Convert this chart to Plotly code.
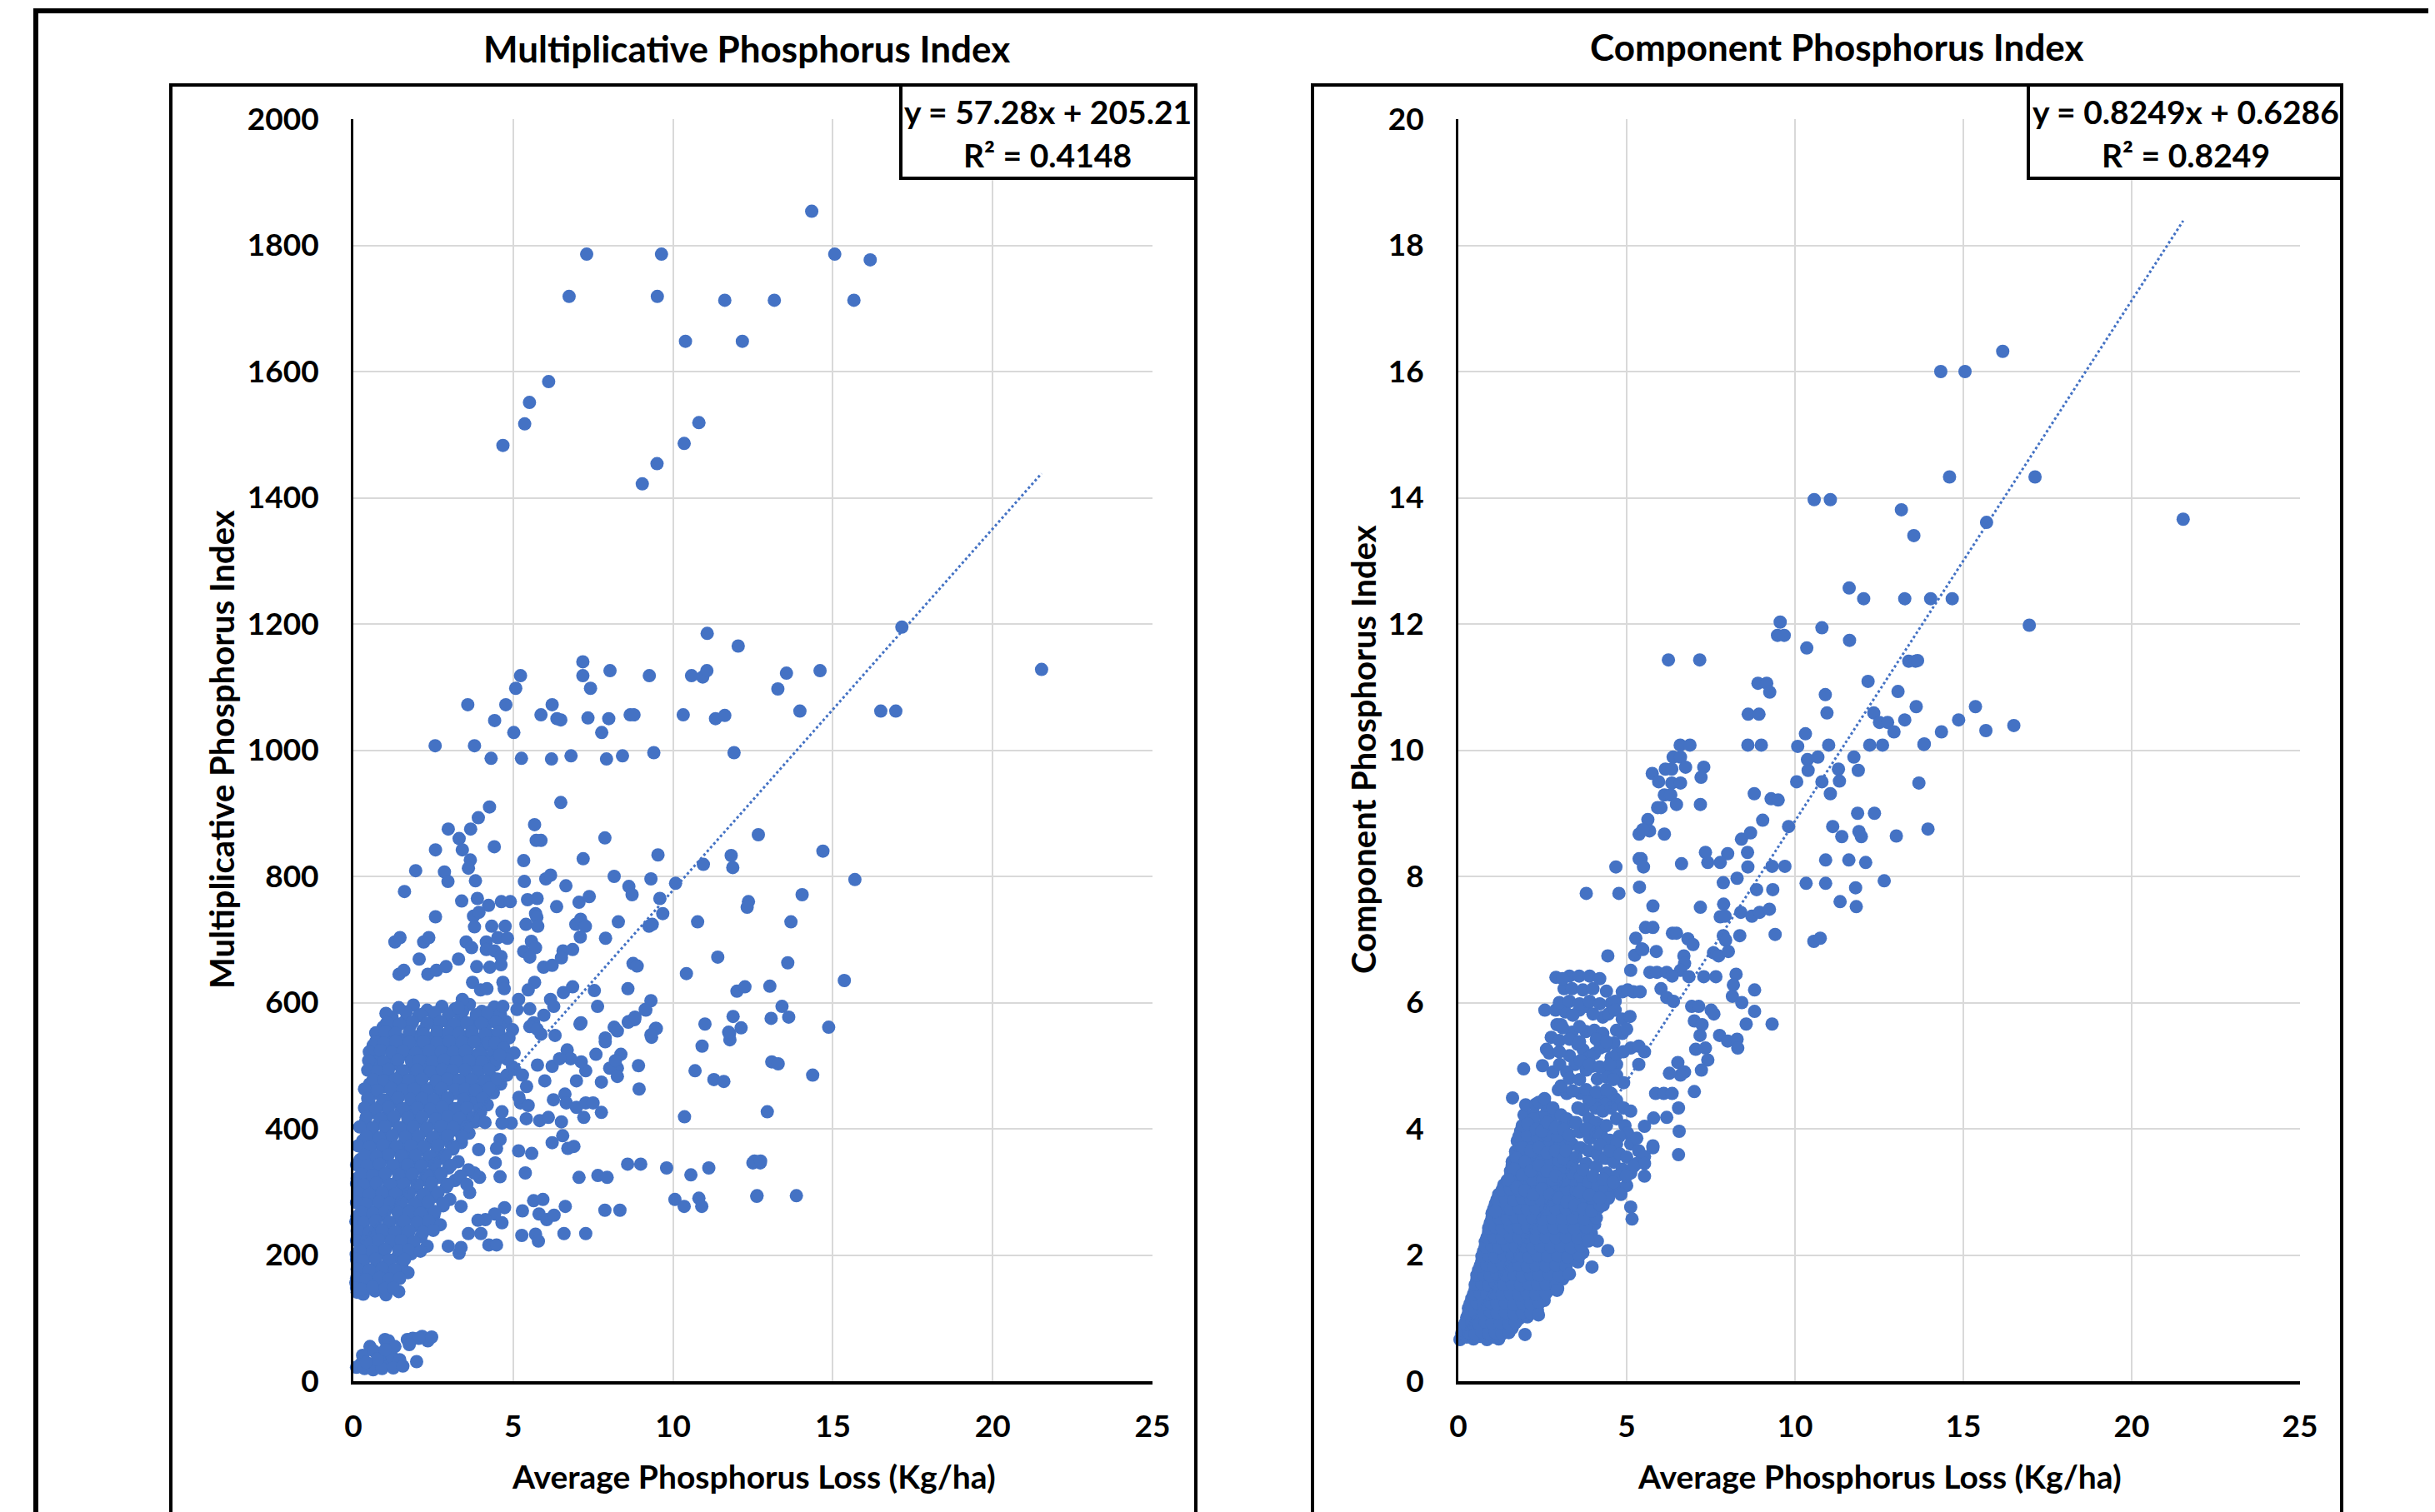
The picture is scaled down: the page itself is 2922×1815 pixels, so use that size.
import plotly.graph_objects as go

BLUE = "#4472C4"
FONT = "Lato"
W, H = 2922, 1815
OFF = 8  # page body margin

# ---------------- data: Multiplicative Phosphorus Index ----------------
mpi_high = [(14.34, 1854), (7.30, 1786), (9.64, 1786), (15.06, 1786), (16.17, 1777), (6.75, 1719),
            (9.51, 1719), (11.62, 1713), (13.17, 1713), (15.66, 1713), (10.39, 1648), (12.17, 1648),
            (6.11, 1584), (5.51, 1551), (5.36, 1517), (4.68, 1483), (10.81, 1519), (10.35, 1486),
            (9.50, 1454), (9.04, 1422)]

mpi_thousand = [(17.16, 1195), (21.53, 1128), (11.07, 1185), (12.04, 1165), (7.18, 1140), (5.23, 1118),
                (7.18, 1118), (8.03, 1126), (9.26, 1118), (10.58, 1118), (10.93, 1116), (11.06, 1126),
                (13.55, 1122), (14.60, 1126), (5.08, 1098), (7.42, 1098), (13.28, 1097), (13.97, 1062),
                (16.50, 1062), (16.97, 1062), (3.58, 1072), (4.77, 1072), (6.22, 1072), (4.42, 1047),
                (5.87, 1056), (6.37, 1050), (6.49, 1048), (7.34, 1051), (7.99, 1050), (8.66, 1056),
                (8.78, 1056), (10.32, 1056), (11.33, 1050), (11.62, 1055), (5.02, 1028), (7.77, 1028),
                (2.56, 1007), (3.79, 1007), (4.31, 987), (5.26, 987), (6.20, 986), (6.81, 991),
                (7.92, 986), (8.42, 991), (9.40, 996), (11.91, 996)]

mpi_mid = [(6.49, 917), (4.26, 910), (3.91, 893), (5.67, 882), (2.97, 875), (3.67, 875), (3.31, 860),
           (5.72, 857), (5.87, 857), (7.87, 861), (12.67, 866), (2.57, 842), (3.41, 842), (4.41, 847),
           (3.66, 826), (3.60, 813), (5.33, 825), (7.19, 828), (9.53, 834), (11.82, 833), (11.87, 814),
           (10.95, 819), (14.69, 840), (1.95, 809), (2.85, 807), (2.96, 792), (3.82, 793), (5.35, 792),
           (6.02, 796), (6.17, 802), (6.65, 785), (8.16, 800), (8.62, 784), (8.72, 771), (9.31, 796),
           (10.08, 789), (15.69, 795), (1.60, 776), (3.39, 761), (3.88, 765), (4.23, 754), (4.63, 760),
           (4.91, 760), (5.45, 763), (5.75, 765), (7.06, 759), (7.38, 768), (6.36, 752), (9.59, 765),
           (12.36, 760), (12.32, 751), (14.04, 771), (2.57, 736), (3.76, 737), (3.93, 743), (5.70, 741),
           (5.74, 735), (3.79, 720), (4.33, 721), (4.75, 721), (5.40, 724), (5.77, 721), (6.96, 724),
           (7.11, 732), (7.26, 721), (8.29, 728), (9.25, 721), (9.35, 724), (9.68, 741), (10.77, 728),
           (13.69, 728), (1.30, 696), (1.46, 703), (2.20, 696), (2.36, 703), (3.53, 696), (3.70, 687),
           (4.16, 696), (4.16, 684), (4.52, 703), (4.82, 702), (5.57, 697), (5.70, 687), (7.10, 704),
           (7.89, 702), (5.33, 681), (5.52, 672), (4.42, 682), (4.62, 673), (6.56, 682), (6.86, 684),
           (2.06, 669), (3.29, 669), (1.43, 645), (1.58, 651), (2.33, 645), (2.60, 651), (2.90, 657),
           (3.86, 657), (4.27, 656), (4.62, 660), (5.95, 656), (6.22, 659), (6.51, 671), (8.75, 662),
           (8.88, 658), (10.42, 646), (11.40, 672), (13.59, 663), (15.36, 635), (3.73, 632), (3.98, 620),
           (4.18, 622), (4.68, 632), (4.72, 622), (5.67, 632), (5.47, 620), (6.57, 616), (6.86, 625),
           (7.54, 619), (8.59, 622), (12.00, 618), (12.25, 625), (13.03, 626), (4.68, 594), (3.41, 605),
           (3.28, 592), (5.17, 605), (5.12, 589), (6.17, 605), (6.27, 594), (7.64, 594), (9.31, 603),
           (9.13, 589), (13.41, 594), (13.07, 575), (13.62, 577), (14.87, 561), (13.09, 506),
           (13.29, 503), (14.37, 485), (12.95, 427), (12.55, 349), (12.74, 349), (12.63, 294),
           (13.86, 294)]

mpi_low = [(11.00, 566), (11.88, 578), (12.13, 560), (10.91, 531), (11.77, 551), (11.78, 541),
           (10.69, 492), (11.28, 478), (11.59, 475), (10.36, 419), (8.92, 500), (8.94, 463), (8.26, 496),
           (8.37, 518), (8.02, 496), (8.20, 508), (7.59, 518), (7.76, 474), (8.26, 483), (9.33, 545),
           (9.48, 559), (9.15, 588), (8.80, 573), (8.60, 569), (7.88, 538), (7.09, 566), (6.98, 476),
           (7.27, 492), (7.13, 506), (6.31, 548), (6.69, 525), (6.80, 511), (6.22, 499), (6.45, 511),
           (5.76, 501), (5.99, 476), (6.62, 455), (6.66, 441), (6.98, 434), (7.27, 441), (7.50, 441),
           (7.76, 426), (7.21, 418), (6.26, 446), (6.51, 411), (5.83, 413), (6.10, 418), (5.41, 416),
           (4.94, 409), (4.65, 409), (4.12, 410), (4.65, 427), (5.23, 441), (5.47, 437), (6.55, 389),
           (6.22, 378), (6.71, 369), (6.90, 372), (5.58, 361), (5.17, 365), (4.59, 383), (4.48, 369),
           (4.44, 346), (3.92, 367), (5.38, 330), (4.59, 324), (3.95, 323), (3.78, 330), (3.60, 335),
           (3.35, 325), (7.06, 323), (7.65, 326), (7.94, 323), (8.58, 344), (8.99, 344), (9.80, 338),
           (10.56, 327), (11.12, 338), (12.50, 346), (12.73, 346), (10.06, 288), (10.35, 277),
           (10.81, 290), (10.90, 277), (12.62, 293), (6.63, 277), (5.64, 286), (5.93, 288), (5.81, 265),
           (6.05, 256), (6.28, 263), (5.29, 270), (7.87, 271), (8.34, 271), (4.73, 275), (4.65, 251),
           (4.42, 265), (4.13, 256), (3.90, 255), (3.60, 234), (3.99, 234), (5.27, 231), (5.70, 233),
           (5.79, 222), (6.59, 234), (7.27, 234), (4.24, 216), (4.48, 216), (2.97, 214), (3.31, 203),
           (3.37, 212), (3.64, 299), (3.55, 312), (3.37, 277), (7.88, 544), (8.16, 561), (8.26, 555),
           (9.45, 559), (9.31, 549), (11.74, 553), (7.12, 568), (8.62, 570), (8.81, 577), (5.64, 568),
           (5.87, 550), (5.52, 562), (5.75, 558), (4.44, 536), (4.71, 528), (5.03, 520), (4.82, 510),
           (4.58, 517), (4.80, 485), (5.05, 494), (5.29, 485), (5.42, 467), (5.18, 450), (5.52, 590),
           (5.96, 580)]

mpi_dense = [(1.42, 592), (1.88, 596), (2.31, 588), (2.77, 594), (3.18, 590), (3.63, 597), (4.02, 586), (4.41, 593),
             (1.21, 577), (1.64, 572), (2.04, 579), (2.52, 574), (2.93, 571), (3.36, 578), (3.82, 573), (4.28, 576), (4.77, 570),
             (0.93, 561), (1.32, 557), (1.77, 563), (2.18, 556), (2.61, 562), (3.04, 558), (3.31, 564), (3.72, 555), (4.13, 560), (4.58, 563), (4.98, 557),
             (0.81, 545), (1.12, 548), (1.53, 541), (1.98, 546), (2.42, 543), (2.84, 549), (3.12, 541), (3.48, 546), (3.93, 542), (4.33, 548), (4.87, 544),
             (0.62, 532), (1.01, 528), (1.38, 533), (1.72, 526), (2.11, 531), (2.53, 528), (2.88, 534), (3.22, 527), (3.58, 531), (4.04, 529), (4.51, 533),
             (0.71, 516), (1.18, 512), (1.61, 518), (2.27, 514), (2.68, 511), (3.02, 517), (3.41, 513), (3.83, 516), (4.22, 512), (4.71, 515),
             (0.58, 502), (0.92, 498), (1.31, 503), (1.82, 497), (2.19, 501), (2.63, 496), (2.91, 503), (3.28, 499), (3.71, 502), (4.08, 497), (4.42, 501), (4.98, 498),
             (0.79, 486), (1.12, 483), (1.51, 488), (1.93, 482), (2.38, 487), (2.81, 484), (3.09, 489), (3.52, 483), (3.88, 486), (4.31, 482),
             (0.51, 471), (0.98, 467), (1.42, 473), (1.69, 468), (2.12, 472), (2.49, 466), (3.01, 471), (3.38, 468), (3.62, 473), (4.02, 467), (4.61, 471),
             (0.68, 456), (1.21, 452), (1.58, 458), (2.02, 453), (2.31, 457), (2.72, 452), (3.18, 456), (3.79, 453), (4.38, 457),
             (0.49, 441), (0.88, 438), (1.32, 443), (1.78, 437), (2.21, 442), (2.62, 439), (2.93, 444), (3.41, 437), (3.72, 441), (4.19, 438),
             (0.61, 426), (1.08, 423), (1.49, 428), (1.91, 422), (2.38, 427), (2.79, 424), (3.12, 428), (3.51, 422), (3.98, 426),
             (0.38, 411), (0.79, 408), (1.22, 413), (1.68, 407), (2.09, 412), (2.52, 409), (2.98, 413), (3.31, 408), (3.81, 411),
             (0.58, 396), (1.02, 393), (1.41, 398), (1.82, 392), (2.28, 397), (2.71, 394), (3.18, 398), (3.62, 393),
             (0.29, 381), (0.71, 378), (1.12, 383), (1.58, 377), (2.01, 382), (2.42, 379), (2.88, 383), (3.38, 378),
             (0.52, 366), (0.91, 363), (1.29, 368), (1.72, 362), (2.18, 367), (2.61, 364), (3.12, 368),
             (0.21, 351), (0.62, 348), (1.01, 353), (1.48, 347), (1.92, 352), (2.31, 349), (2.81, 353), (3.28, 348),
             (0.41, 336), (0.79, 333), (1.21, 338), (1.62, 332), (2.08, 337), (2.52, 334), (2.98, 338),
             (0.12, 321), (0.51, 318), (0.92, 323), (1.38, 317), (1.81, 322), (2.22, 319), (2.68, 323), (3.18, 318),
             (0.31, 306), (0.69, 303), (1.11, 308), (1.52, 302), (1.98, 307), (2.41, 304), (2.91, 308),
             (0.18, 291), (0.62, 288), (0.98, 293), (1.31, 287), (1.72, 292), (2.12, 289), (2.58, 293), (3.02, 288),
             (0.42, 276), (0.81, 273), (1.19, 278), (1.61, 272), (1.92, 277), (2.28, 274), (2.81, 278),
             (0.11, 261), (0.52, 258), (0.88, 263), (1.41, 257), (1.79, 262), (2.21, 259), (2.52, 263),
             (0.29, 246), (0.71, 243), (1.09, 248), (1.52, 242), (1.98, 247), (2.38, 244), (2.72, 248),
             (0.22, 231), (0.58, 228), (1.02, 233), (1.31, 227), (1.69, 232), (2.12, 229),
             (0.41, 216), (0.79, 213), (1.21, 218), (1.62, 212), (1.88, 217), (2.31, 214),
             (0.09, 201), (0.48, 198), (0.91, 203), (1.38, 197), (1.81, 202),
             (0.31, 186), (0.72, 183), (1.09, 188), (1.52, 182),
             (0.19, 171), (0.61, 168), (1.01, 173), (1.29, 167), (1.71, 172),
             (0.08, 156), (0.42, 153), (0.79, 158), (1.18, 152),
             (0.12, 141), (0.31, 138), (0.68, 143), (1.02, 137), (1.42, 142)]

mpi_fill = [(1.02, 583), (1.65, 585), (2.10, 581), (2.55, 584), (2.98, 582), (3.42, 586), (3.85, 581), (4.20, 584), (4.60, 582),
            (1.05, 568), (1.45, 566), (1.85, 569), (2.30, 567), (2.72, 570), (3.15, 566), (3.55, 568), (4.00, 567), (4.45, 569),
            (0.70, 552), (1.00, 554), (1.32, 551), (1.75, 553), (2.20, 550), (2.62, 554), (2.98, 552), (3.30, 551), (3.70, 553), (4.12, 550), (4.55, 553),
            (0.70, 538), (0.95, 536), (1.33, 539), (1.75, 537), (2.20, 538), (2.62, 536), (3.00, 539), (3.40, 537), (3.78, 538), (4.22, 536), (4.70, 539),
            (0.50, 522), (0.85, 524), (1.20, 521), (1.55, 523), (1.95, 520), (2.38, 524), (2.75, 522), (3.12, 521), (3.50, 523), (3.95, 520), (4.40, 523),
            (0.48, 508), (0.95, 506), (1.40, 509), (1.82, 507), (2.05, 508), (2.48, 506), (2.85, 509), (3.22, 507), (3.62, 508), (4.02, 506), (4.48, 509),
            (0.45, 493), (0.75, 491), (1.10, 494), (1.55, 492), (2.00, 493), (2.42, 491), (2.78, 494), (3.10, 492), (3.50, 493), (3.90, 491), (4.25, 494),
            (0.62, 478), (0.95, 476), (1.32, 479), (1.72, 477), (2.15, 478), (2.60, 476), (2.95, 479), (3.30, 477), (3.70, 478), (4.10, 476), (4.50, 479),
            (0.35, 463), (0.75, 461), (1.18, 464), (1.55, 462), (1.90, 463), (2.30, 461), (2.75, 464), (3.20, 462), (3.50, 463), (3.82, 461), (4.25, 464),
            (0.45, 448), (0.95, 446), (1.40, 449), (1.80, 447), (2.15, 448), (2.50, 446), (2.95, 449), (3.45, 447), (4.05, 448),
            (0.35, 433), (0.70, 431), (1.10, 434), (1.55, 432), (2.00, 433), (2.42, 431), (2.78, 434), (3.18, 432), (3.55, 433), (3.95, 431),
            (0.40, 418), (0.85, 416), (1.28, 419), (1.70, 417), (2.15, 418), (2.58, 416), (2.95, 419), (3.32, 417), (3.75, 418),
            (0.20, 403), (0.60, 401), (1.00, 404), (1.45, 402), (1.88, 403), (2.30, 401), (2.75, 404), (3.12, 402), (3.55, 403),
            (0.40, 388), (0.82, 386), (1.22, 389), (1.62, 387), (2.05, 388), (2.50, 386), (2.95, 389), (3.40, 387),
            (0.15, 373), (0.50, 371), (0.92, 374), (1.35, 372), (1.80, 373), (2.20, 371), (2.65, 374), (3.12, 372),
            (0.35, 358), (0.72, 356), (1.10, 359), (1.50, 357), (1.95, 358), (2.40, 356), (2.88, 359),
            (0.10, 343), (0.42, 341), (0.82, 344), (1.25, 342), (1.70, 343), (2.12, 341), (2.55, 344), (3.05, 342),
            (0.25, 328), (0.60, 326), (1.00, 329), (1.42, 327), (1.85, 328), (2.30, 326), (2.75, 329),
            (0.10, 313), (0.32, 311), (0.72, 314), (1.15, 312), (1.58, 313), (2.00, 311), (2.45, 314), (2.95, 312),
            (0.15, 298), (0.50, 296), (0.90, 299), (1.32, 297), (1.75, 298), (2.20, 296), (2.65, 299),
            (0.10, 283), (0.40, 281), (0.80, 284), (1.15, 282), (1.50, 283), (1.92, 281), (2.35, 284), (2.80, 282),
            (0.25, 268), (0.62, 266), (1.00, 269), (1.40, 267), (1.75, 268), (2.10, 266), (2.55, 269),
            (0.08, 253), (0.32, 251), (0.70, 254), (1.12, 252), (1.60, 253), (2.00, 251), (2.35, 254),
            (0.12, 238), (0.50, 236), (0.90, 239), (1.30, 237), (1.75, 238), (2.18, 236), (2.50, 239),
            (0.10, 223), (0.40, 221), (0.80, 224), (1.18, 222), (1.50, 223), (1.90, 221),
            (0.20, 208), (0.60, 206), (1.00, 209), (1.42, 207), (1.72, 208), (2.10, 206),
            (0.10, 193), (0.30, 191), (0.70, 194), (1.12, 192), (1.60, 193),
            (0.12, 178), (0.50, 176), (0.90, 179), (1.30, 177),
            (0.10, 163), (0.40, 161), (0.82, 164), (1.12, 162), (1.45, 163),
            (0.10, 148), (0.25, 146), (0.60, 149), (1.00, 147), (1.25, 148)]

mpi_bottom = [(0.23, 27), (0.47, 27), (0.76, 29), (1.10, 27), (1.40, 29), (0.52, 55), (0.99, 66), (1.10, 64),
              (1.69, 66), (1.86, 68), (2.15, 71), (2.33, 64), (1.98, 31), (0.87, 41), (1.22, 38), (1.45, 34),
              (0.29, 41), (0.64, 48), (0.10, 22), (0.35, 20), (0.62, 18), (0.90, 20), (1.25, 21), (1.55, 24),
              (2.05, 68), (2.45, 70), (1.30, 55), (1.75, 58), (0.75, 35), (1.00, 50), (0.40, 30)]

# ---------------- data: Component Phosphorus Index ----------------
cpi_high = [(14.33, 16.00), (15.05, 16.00), (16.17, 16.32), (14.59, 14.33), (17.13, 14.33), (10.57, 13.97),
            (11.05, 13.97), (13.16, 13.81), (13.53, 13.40), (15.69, 13.61), (21.53, 13.66), (11.61, 12.57),
            (12.04, 12.40), (13.26, 12.40), (14.03, 12.40), (14.67, 12.40), (16.96, 11.98), (9.56, 12.03),
            (9.48, 11.82), (9.68, 11.82), (10.80, 11.94), (10.35, 11.62), (11.62, 11.74), (6.24, 11.43),
            (7.17, 11.43), (13.38, 11.41), (13.58, 11.41), (13.64, 11.42)]

cpi_upper = [(8.90, 11.06), (9.16, 11.06), (9.25, 10.92), (10.90, 10.88), (12.17, 11.09), (13.06, 10.93),
             (13.60, 10.69), (15.36, 10.69), (14.86, 10.48), (15.67, 10.31), (16.50, 10.39), (8.61, 10.57),
             (8.93, 10.57), (10.95, 10.59), (12.34, 10.59), (12.51, 10.44), (12.75, 10.44), (12.94, 10.29),
             (13.26, 10.48), (14.35, 10.29), (13.84, 10.10), (10.31, 10.26), (6.59, 10.08), (6.88, 10.08),
             (8.60, 10.08), (9.00, 10.08), (10.08, 10.06), (11.00, 10.08), (12.22, 10.08), (12.60, 10.08),
             (13.83, 10.09), (6.38, 9.89), (6.60, 9.89), (10.37, 9.85), (10.68, 9.89), (11.75, 9.89),
             (6.15, 9.70), (6.34, 9.70), (6.75, 9.73), (7.29, 9.73), (5.76, 9.63), (10.39, 9.68),
             (11.29, 9.70), (11.88, 9.68), (5.95, 9.50), (6.34, 9.48), (6.60, 9.48), (7.21, 9.57),
             (10.05, 9.50), (10.80, 9.50), (11.32, 9.51), (13.68, 9.48), (6.12, 9.29), (6.31, 9.29),
             (8.79, 9.31), (11.05, 9.31), (9.29, 9.23), (9.50, 9.21), (5.92, 9.09), (6.02, 9.09),
             (6.48, 9.14), (7.19, 9.14), (11.86, 9.00), (12.36, 9.00), (9.04, 8.89), (5.63, 8.90),
             (5.37, 8.67), (5.68, 8.72), (5.48, 8.74), (6.12, 8.67), (9.81, 8.79), (8.41, 8.59),
             (8.68, 8.69), (11.12, 8.79), (11.39, 8.63), (11.90, 8.71), (11.97, 8.63), (13.01, 8.64),
             (13.95, 8.75), (7.34, 8.38), (8.00, 8.36), (8.59, 8.38), (5.37, 8.28), (5.43, 8.28),
             (5.50, 8.15), (6.63, 8.20), (7.41, 8.22), (7.78, 8.22), (8.60, 8.15), (9.32, 8.16),
             (9.70, 8.16), (10.91, 8.26), (11.60, 8.26), (12.10, 8.22), (4.68, 8.15)]

cpi_lower = [(3.80, 7.73), (4.77, 7.73), (5.38, 7.83), (7.87, 7.90), (8.28, 7.97), (10.33, 7.89),
             (10.91, 7.89), (11.80, 7.82), (12.65, 7.93), (8.86, 7.79), (9.34, 7.79), (5.78, 7.53),
             (7.19, 7.51), (7.88, 7.56), (11.34, 7.60), (11.82, 7.52), (8.39, 7.43), (8.72, 7.37),
             (8.95, 7.43), (9.24, 7.48), (7.78, 7.36), (7.92, 7.37), (5.56, 7.19), (5.78, 7.19),
             (6.36, 7.10), (6.48, 7.10), (5.27, 7.02), (6.82, 7.01), (6.97, 6.92), (7.87, 7.06),
             (7.94, 6.99), (8.36, 7.06), (9.41, 7.08), (10.56, 6.97), (10.75, 7.02), (5.48, 6.84),
             (5.88, 6.81), (4.44, 6.74), (5.24, 6.75), (6.70, 6.74), (7.58, 6.79), (7.73, 6.74),
             (8.02, 6.81), (5.45, 6.85), (6.72, 6.62), (6.60, 6.51), (6.85, 6.41), (5.12, 6.51),
             (5.69, 6.48), (5.90, 6.48), (6.19, 6.48), (6.35, 6.42), (6.02, 6.22), (6.19, 6.08),
             (6.39, 6.02), (7.29, 6.41), (7.65, 6.41), (8.25, 6.45), (8.17, 6.28), (8.14, 6.10),
             (8.80, 6.20), (8.42, 6.00), (8.80, 5.86), (9.32, 5.66), (8.55, 5.66), (7.76, 5.48),
             (8.00, 5.39), (8.28, 5.42), (8.30, 5.28), (6.93, 5.94), (7.14, 5.94), (7.51, 5.88),
             (7.59, 5.82), (7.01, 5.71), (7.24, 5.65), (7.18, 5.48), (7.05, 5.26), (7.34, 5.28),
             (7.41, 5.09), (7.22, 4.93), (6.52, 5.05), (6.72, 4.90), (6.60, 4.85), (6.27, 4.88),
             (7.01, 4.59), (5.86, 4.56), (6.10, 4.56), (6.35, 4.56), (6.54, 4.33), (6.19, 4.18),
             (6.56, 3.96), (6.54, 3.59), (5.80, 4.17), (5.53, 4.04), (5.78, 3.73), (5.53, 3.45),
             (5.53, 3.25), (5.12, 2.76), (5.16, 2.57), (5.20, 3.40), (4.99, 3.25), (4.83, 2.96),
             (4.44, 2.07), (3.97, 1.81), (4.13, 2.22), (3.86, 2.22), (3.30, 1.70), (2.93, 1.44),
             (2.38, 1.05), (1.98, 0.74), (1.94, 4.95), (1.61, 4.49), (1.10, 2.69)]

cpi_body = [(3.30, 6.42), (3.59, 6.42), (3.14, 6.22), (3.38, 6.22), (2.57, 5.88), (2.89, 5.88), (3.18, 5.85),
            (3.59, 5.88), (3.80, 5.94), (2.93, 5.65), (3.05, 5.65), (2.76, 5.45), (2.62, 5.26), (3.38, 5.53),
            (3.79, 5.54), (4.04, 5.56), (4.29, 5.51), (4.54, 5.99), (4.66, 6.02), (4.87, 6.17), (5.03, 6.20),
            (5.20, 6.17), (5.40, 6.17), (4.29, 5.77), (4.46, 5.82), (4.66, 5.88), (4.87, 5.74), (4.70, 5.56),
            (4.87, 5.51), (4.62, 5.36), (5.12, 5.28), (5.36, 5.31), (5.53, 5.22), (5.36, 5.02), (3.55, 5.34),
            (3.71, 5.25), (3.88, 5.13), (4.04, 5.19), (4.21, 5.28), (3.30, 5.16), (3.47, 5.02), (3.63, 5.08),
            (3.80, 4.93), (3.96, 4.99), (4.13, 4.79), (2.81, 4.90), (3.01, 5.02), (3.22, 4.90), (4.37, 5.31),
            (4.54, 5.13), (4.70, 5.02), (4.50, 4.90), (4.70, 4.85), (4.91, 4.73), (4.54, 4.56), (4.70, 4.45),
            (4.91, 4.33), (5.12, 4.28), (4.21, 4.50), (4.37, 4.39), (4.08, 4.33), (3.63, 4.56), (3.88, 4.45),
            (3.71, 4.30), (3.55, 4.33), (2.97, 4.62), (3.22, 4.56), (3.05, 4.68), (2.39, 4.42), (2.56, 4.48),
            (2.81, 4.33), (3.05, 4.22), (3.22, 4.16), (3.42, 4.10), (3.88, 4.16), (4.08, 4.10), (4.29, 4.28),
            (4.54, 4.33), (4.70, 4.16), (4.95, 4.05), (5.03, 3.93), (4.78, 3.88), (5.12, 3.76), (5.36, 3.65),
            (5.53, 3.56), (5.78, 3.70), (4.25, 3.90), (4.50, 3.82), (4.70, 3.76), (2.23, 4.16), (2.06, 4.08),
            (2.31, 3.99), (2.48, 3.96), (2.64, 4.10), (2.89, 4.02), (3.13, 3.99), (3.38, 3.76), (3.63, 3.70),
            (3.88, 3.65), (4.13, 3.59), (4.37, 3.53), (4.62, 3.47), (4.87, 3.36), (5.12, 3.30), (1.90, 3.70),
            (2.15, 3.65), (2.39, 3.70), (2.64, 3.62), (2.89, 3.65), (3.13, 3.53), (1.73, 3.53), (1.98, 3.47),
            (1.65, 3.36), (1.90, 3.27), (2.15, 3.33), (2.39, 3.42), (2.64, 3.33), (2.89, 3.25), (3.14, 3.19),
            (3.38, 3.30), (3.63, 3.25), (3.88, 3.16), (4.13, 3.10), (4.37, 3.05), (4.62, 3.02), (4.79, 3.05),
            (1.49, 3.19), (1.73, 3.07), (1.98, 3.02), (2.23, 2.96), (2.48, 3.05), (2.72, 2.96), (2.97, 2.90),
            (3.22, 2.84), (3.47, 2.79), (3.71, 2.73), (3.96, 2.70), (4.21, 2.79), (4.46, 2.90),
            (3.40, 4.60), (3.80, 4.62), (4.10, 4.58), (4.40, 4.62), (3.30, 4.80), (3.60, 4.78), (4.40, 4.82),
            (4.60, 4.78), (2.50, 5.00), (3.90, 5.02), (4.20, 4.98), (4.50, 5.02), (2.70, 5.20), (3.00, 5.22),
            (4.70, 5.18), (4.90, 5.22), (3.00, 5.40), (3.30, 5.42), (3.60, 5.38), (4.10, 5.42), (4.40, 5.38),
            (3.10, 5.60), (3.60, 5.62), (5.00, 5.58), (3.40, 5.80), (4.00, 5.82), (5.10, 5.78), (3.00, 6.00),
            (3.30, 6.02), (3.60, 5.98), (3.90, 6.02), (4.20, 5.98), (3.70, 6.20), (4.00, 6.22), (4.40, 6.18),
            (2.90, 6.40), (3.10, 6.38), (3.90, 6.42), (4.20, 6.38),
            (3.30, 3.90), (3.60, 3.95), (3.90, 3.85), (4.20, 3.75), (4.50, 3.65), (4.80, 3.60), (3.50, 4.10),
            (3.80, 4.00), (4.10, 3.95), (4.40, 4.05), (3.20, 3.65), (3.50, 3.55), (3.80, 3.45), (4.10, 3.40),
            (4.40, 3.30), (4.70, 3.25), (3.40, 3.40), (3.70, 3.35), (4.00, 3.25), (4.30, 3.20), (4.60, 3.15),
            (5.00, 3.10), (3.60, 3.00), (3.90, 2.95), (4.20, 2.90), (5.30, 3.45), (5.00, 3.55), (5.30, 3.85)]

cpi_core = [(0.05, 0.66), (0.25, 0.70), (0.45, 0.67), (0.65, 0.71), (0.85, 0.66), (1.05, 0.70), (1.20, 0.67),
            (0.15, 0.86), (0.35, 0.83), (0.55, 0.87), (0.75, 0.84), (0.95, 0.88), (1.15, 0.83), (1.40, 0.86), (1.60, 0.84),
            (0.25, 1.01), (0.45, 0.98), (0.65, 1.02), (0.85, 0.99), (1.05, 1.03), (1.30, 0.98), (1.55, 1.02), (1.80, 0.99), (2.05, 1.02),
            (0.30, 1.16), (0.50, 1.13), (0.70, 1.17), (0.90, 1.14), (1.10, 1.18), (1.35, 1.13), (1.60, 1.17), (1.85, 1.14), (2.10, 1.16), (2.35, 1.13),
            (0.40, 1.31), (0.60, 1.28), (0.80, 1.32), (1.00, 1.29), (1.25, 1.33), (1.50, 1.28), (1.75, 1.32), (2.00, 1.29), (2.25, 1.31), (2.55, 1.28),
            (0.50, 1.46), (0.70, 1.43), (0.90, 1.47), (1.10, 1.44), (1.35, 1.48), (1.60, 1.43), (1.85, 1.47), (2.10, 1.44), (2.35, 1.46), (2.65, 1.43), (2.95, 1.47),
            (0.55, 1.61), (0.75, 1.58), (0.95, 1.62), (1.20, 1.59), (1.45, 1.63), (1.70, 1.58), (1.95, 1.62), (2.20, 1.59), (2.45, 1.61), (2.75, 1.58), (3.10, 1.62),
            (0.60, 1.76), (0.80, 1.73), (1.00, 1.77), (1.25, 1.74), (1.50, 1.78), (1.75, 1.73), (2.00, 1.77), (2.30, 1.74), (2.55, 1.76), (2.85, 1.73), (3.20, 1.77),
            (0.70, 1.91), (0.90, 1.88), (1.10, 1.92), (1.35, 1.89), (1.60, 1.93), (1.85, 1.88), (2.10, 1.92), (2.35, 1.89), (2.65, 1.91), (2.95, 1.88), (3.30, 1.92), (3.55, 1.89),
            (0.75, 2.06), (0.95, 2.03), (1.20, 2.07), (1.45, 2.04), (1.70, 2.08), (1.95, 2.03), (2.20, 2.07), (2.45, 2.04), (2.75, 2.06), (3.05, 2.03), (3.40, 2.07), (3.70, 2.04),
            (0.80, 2.21), (1.00, 2.18), (1.25, 2.22), (1.50, 2.19), (1.75, 2.23), (2.00, 2.18), (2.30, 2.22), (2.55, 2.19), (2.85, 2.21), (3.15, 2.18), (3.50, 2.22),
            (0.90, 2.36), (1.10, 2.33), (1.35, 2.37), (1.60, 2.34), (1.85, 2.38), (2.10, 2.33), (2.35, 2.37), (2.65, 2.34), (2.95, 2.36), (3.25, 2.33), (3.60, 2.37), (3.95, 2.34),
            (0.95, 2.51), (1.15, 2.48), (1.40, 2.52), (1.65, 2.49), (1.90, 2.53), (2.20, 2.48), (2.45, 2.52), (2.75, 2.49), (3.05, 2.51), (3.35, 2.48), (3.70, 2.52), (4.05, 2.49),
            (1.00, 2.66), (1.25, 2.63), (1.50, 2.67), (1.75, 2.64), (2.00, 2.68), (2.25, 2.63), (2.55, 2.67), (2.85, 2.64), (3.15, 2.66), (3.45, 2.63), (3.80, 2.67),
            (1.10, 2.81), (1.35, 2.78), (1.60, 2.82), (1.85, 2.79), (2.10, 2.83), (2.40, 2.78), (2.70, 2.82), (3.00, 2.79), (3.30, 2.81), (3.60, 2.78), (3.90, 2.82), (4.30, 2.79),
            (1.20, 2.96), (1.45, 2.93), (1.70, 2.97), (1.95, 2.94), (2.20, 2.98), (2.50, 2.93), (2.80, 2.97), (3.10, 2.94), (3.40, 2.96), (3.70, 2.93), (4.00, 2.97), (4.40, 2.94),
            (1.35, 3.11), (1.60, 3.08), (1.85, 3.12), (2.10, 3.09), (2.35, 3.13), (2.65, 3.08), (2.95, 3.12), (3.25, 3.09), (3.55, 3.11),
            (1.55, 3.26), (1.80, 3.23), (2.05, 3.27), (2.30, 3.24), (2.60, 3.28), (2.90, 3.23), (3.20, 3.27),
            (1.60, 3.41), (1.85, 3.38), (2.10, 3.42), (2.40, 3.39), (2.70, 3.43), (3.00, 3.38),
            (1.70, 3.56), (1.95, 3.53), (2.25, 3.57), (2.55, 3.54), (2.85, 3.58),
            (1.75, 3.81), (2.00, 3.78), (2.30, 3.82), (2.60, 3.79), (2.90, 3.83), (3.20, 3.78),
            (1.85, 3.96), (2.15, 3.93), (2.45, 3.97), (2.75, 3.94)]

cpi_fill = [(0.10, 0.76), (0.30, 0.77), (0.50, 0.75), (0.70, 0.78), (0.90, 0.76), (1.10, 0.77), (1.30, 0.75), (1.50, 0.77),
            (0.20, 0.92), (0.40, 0.93), (0.60, 0.91), (0.80, 0.94), (1.00, 0.92), (1.25, 0.93), (1.50, 0.91), (1.70, 0.93),
            (0.30, 1.08), (0.50, 1.09), (0.75, 1.07), (0.95, 1.10), (1.15, 1.08), (1.40, 1.09), (1.65, 1.07), (1.90, 1.09), (2.15, 1.08),
            (0.35, 1.23), (0.55, 1.24), (0.75, 1.22), (0.95, 1.25), (1.15, 1.23), (1.40, 1.24), (1.65, 1.22), (1.90, 1.24), (2.15, 1.23), (2.40, 1.24),
            (0.45, 1.38), (0.65, 1.39), (0.85, 1.37), (1.05, 1.40), (1.30, 1.38), (1.55, 1.39), (1.80, 1.37), (2.05, 1.39), (2.30, 1.38), (2.60, 1.39),
            (0.50, 1.53), (0.70, 1.54), (0.90, 1.52), (1.10, 1.55), (1.35, 1.53), (1.60, 1.54), (1.85, 1.52), (2.10, 1.54), (2.35, 1.53), (2.60, 1.54), (2.90, 1.52),
            (0.55, 1.68), (0.75, 1.69), (0.95, 1.67), (1.15, 1.70), (1.40, 1.68), (1.65, 1.69), (1.90, 1.67), (2.15, 1.69), (2.40, 1.68), (2.70, 1.69), (3.00, 1.67),
            (0.65, 1.83), (0.85, 1.84), (1.05, 1.82), (1.30, 1.85), (1.55, 1.83), (1.80, 1.84), (2.05, 1.82), (2.30, 1.84), (2.60, 1.83), (2.90, 1.84), (3.20, 1.82),
            (0.70, 1.98), (0.90, 1.99), (1.10, 1.97), (1.35, 2.00), (1.60, 1.98), (1.85, 1.99), (2.10, 1.97), (2.35, 1.99), (2.65, 1.98), (2.95, 1.99), (3.25, 1.97), (3.60, 1.99),
            (0.80, 2.13), (1.00, 2.14), (1.20, 2.12), (1.45, 2.15), (1.70, 2.13), (1.95, 2.14), (2.20, 2.12), (2.45, 2.14), (2.75, 2.13), (3.05, 2.14), (3.35, 2.12), (3.65, 2.14),
            (0.85, 2.28), (1.05, 2.29), (1.30, 2.27), (1.55, 2.30), (1.80, 2.28), (2.05, 2.29), (2.30, 2.27), (2.60, 2.29), (2.90, 2.28), (3.20, 2.29), (3.55, 2.27), (3.85, 2.29),
            (0.90, 2.43), (1.10, 2.44), (1.30, 2.42), (1.55, 2.45), (1.80, 2.43), (2.05, 2.44), (2.30, 2.42), (2.55, 2.44), (2.85, 2.43), (3.15, 2.44), (3.45, 2.42), (3.80, 2.44),
            (1.00, 2.58), (1.20, 2.59), (1.45, 2.57), (1.70, 2.60), (1.95, 2.58), (2.20, 2.59), (2.50, 2.57), (2.80, 2.59), (3.10, 2.58), (3.40, 2.59), (3.75, 2.57), (4.10, 2.59),
            (1.05, 2.73), (1.30, 2.74), (1.55, 2.72), (1.80, 2.75), (2.05, 2.73), (2.30, 2.74), (2.60, 2.72), (2.90, 2.74), (3.20, 2.73), (3.50, 2.74), (3.85, 2.72), (4.15, 2.74),
            (1.15, 2.88), (1.40, 2.89), (1.65, 2.87), (1.90, 2.90), (2.15, 2.88), (2.45, 2.89), (2.75, 2.87), (3.05, 2.89), (3.35, 2.88), (3.65, 2.89), (4.00, 2.87), (4.30, 2.89),
            (1.30, 3.03), (1.55, 3.04), (1.80, 3.02), (2.05, 3.05), (2.30, 3.03), (2.60, 3.04), (2.90, 3.02), (3.20, 3.04), (3.50, 3.03), (3.80, 3.04), (4.10, 3.02),
            (1.45, 3.18), (1.70, 3.19), (1.95, 3.17), (2.20, 3.20), (2.50, 3.18), (2.80, 3.19), (3.10, 3.17), (3.40, 3.19), (3.70, 3.18),
            (1.55, 3.33), (1.80, 3.34), (2.00, 3.32), (2.25, 3.35), (2.55, 3.33), (2.85, 3.34), (3.15, 3.32), (3.45, 3.34),
            (1.60, 3.48), (1.85, 3.49), (2.10, 3.47), (2.40, 3.50), (2.70, 3.48), (3.00, 3.49), (3.30, 3.47),
            (1.70, 3.64), (1.95, 3.65), (2.20, 3.63), (2.45, 3.66), (2.75, 3.64), (3.05, 3.65),
            (1.80, 3.72), (2.10, 3.73), (2.40, 3.71), (2.70, 3.74), (3.00, 3.72),
            (1.80, 3.88), (2.05, 3.89), (2.35, 3.87), (2.65, 3.90), (2.95, 3.88),
            (1.90, 4.05), (2.20, 4.06), (2.50, 4.04), (2.80, 4.07), (3.10, 4.05),
            (1.95, 4.22), (2.25, 4.23), (2.55, 4.21), (2.85, 4.24),
            (2.00, 4.38), (2.30, 4.39), (2.60, 4.37)]

# trendline equations as printed on the chart
mpi_slope, mpi_intercept, mpi_r2 = 57.28, 205.21, 0.4148
cpi_slope, cpi_intercept, cpi_r2 = 0.8249, 0.6286, 0.8249

x_ticks = [0, 5, 10, 15, 20, 25]
mpi_ticks = [0, 200, 400, 600, 800, 1000, 1200, 1400, 1600, 1800, 2000]
cpi_ticks = [0, 2, 4, 6, 8, 10, 12, 14, 16, 18, 20]


def unzip(*groups):
    xs, ys = [], []
    for g in groups:
        for a, b in g:
            xs.append(a)
            ys.append(b)
    return xs, ys


mpi_x, mpi_y = unzip(mpi_dense, mpi_fill, mpi_bottom, mpi_low, mpi_mid, mpi_thousand, mpi_high)
cpi_x, cpi_y = unzip(cpi_core, cpi_fill, cpi_body, cpi_lower, cpi_upper, cpi_high)

fig = go.Figure()

marker = dict(color=BLUE, size=16, line=dict(width=0))

fig.add_trace(go.Scatter(x=mpi_x, y=mpi_y, mode="markers", marker=marker, cliponaxis=False,
                         xaxis="x", yaxis="y", showlegend=False))
fig.add_trace(go.Scatter(x=cpi_x, y=cpi_y, mode="markers", marker=marker, cliponaxis=False,
                         xaxis="x2", yaxis="y2", showlegend=False))

# linear trendlines over the data's x span
tx1 = [min(mpi_x), max(mpi_x)]
fig.add_trace(go.Scatter(x=tx1, y=[mpi_slope * v + mpi_intercept for v in tx1], mode="lines",
                         line=dict(color=BLUE, width=3, dash="dot"), xaxis="x", yaxis="y",
                         showlegend=False, cliponaxis=False))
tx2 = [min(cpi_x), max(cpi_x)]
fig.add_trace(go.Scatter(x=tx2, y=[cpi_slope * v + cpi_intercept for v in tx2], mode="lines",
                         line=dict(color=BLUE, width=3, dash="dot"), xaxis="x2", yaxis="y2",
                         showlegend=False, cliponaxis=False))

FW, FH = W - OFF, H - OFF


def px(v):
    return (v - OFF) / FW


def py(v):
    return 1 - (v - OFF) / FH


tickfont = dict(family=FONT, size=37, color="black", weight="bold")
grid = "#D9D9D9"

xcommon = dict(range=[0, 25], tickvals=x_ticks, showgrid=True, gridcolor=grid, gridwidth=2,
               zeroline=False, showline=True, linecolor="black", linewidth=4, ticks="",
               tickfont=tickfont, ticklabelstandoff=19, automargin=False, fixedrange=True)
ycommon = dict(showgrid=True, gridcolor=grid, gridwidth=2, zeroline=False, showline=True,
               linecolor="black", linewidth=3, ticks="", tickfont=tickfont, ticklabelstandoff=31,
               automargin=False, fixedrange=True)

fig.update_layout(
    width=FW, height=FH, autosize=False,
    margin=dict(l=0, r=0, t=0, b=0, pad=0, autoexpand=False),
    paper_bgcolor="white", plot_bgcolor="white",
    xaxis=dict(domain=[px(424), px(1383)], anchor="y", **xcommon),
    yaxis=dict(domain=[py(1658), py(143)], anchor="x", range=[0, 2000], tickvals=mpi_ticks, **ycommon),
    xaxis2=dict(domain=[px(1750), px(2760)], anchor="y2", **xcommon),
    yaxis2=dict(domain=[py(1658), py(143)], anchor="x2", range=[0, 20], tickvals=cpi_ticks, **ycommon),
)

shapes = []


def seg(x0, y0, x1, y1, w):
    shapes.append(dict(type="line", xref="paper", yref="paper", x0=px(x0), y0=py(y0), x1=px(x1),
                       y1=py(y1), line=dict(color="black", width=w), layer="above"))


# outer frame
seg(40, 13, W + 10, 13, 6)
seg(43, 10, 43, H + 10, 6)
# panel frames (open at bottom, cut by the image edge)
for L, R in [(205, 1435), (1575, 2810)]:
    seg(L, 102, R, 102, 4)
    seg(L, 100, L, H + 10, 4)
    seg(R, 100, R, H + 10, 4)
# equation boxes
for L, R in [(1081, 1435), (2434, 2810)]:
    shapes.append(dict(type="rect", xref="paper", yref="paper", x0=px(L), x1=px(R), y0=py(214), y1=py(102),
                       line=dict(color="black", width=4), fillcolor="white", layer="above"))
fig.update_layout(shapes=shapes)


def ann(text, x, y, size, angle=0):
    return dict(text="<b>" + text + "</b>", x=px(x), y=py(y), xref="paper", yref="paper",
                xanchor="center", yanchor="middle", showarrow=False, textangle=angle,
                font=dict(family=FONT, size=size, color="black"))


annotations = [
    ann("Multiplicative Phosphorus Index", 896, 58, 44),
    ann("Component Phosphorus Index", 2204, 56, 44),
    ann("Average Phosphorus Loss (Kg/ha)", 904, 1772, 39),
    ann("Average Phosphorus Loss (Kg/ha)", 2255, 1772, 39),
    ann("Multiplicative Phosphorus Index", 266, 900, 40, -90),
    ann("Component Phosphorus Index", 1636, 900, 40, -90),
    ann(f"y = {mpi_slope:.2f}x + {mpi_intercept:.2f}", 1257, 134, 39),
    ann(f"R² = {mpi_r2:.4f}", 1257, 186, 39),
    ann(f"y = {cpi_slope:.4f}x + {cpi_intercept:.4f}", 2623, 134, 39),
    ann(f"R² = {cpi_r2:.4f}", 2623, 186, 39),
]
fig.update_layout(annotations=annotations)

fig.write_html("out.html")
